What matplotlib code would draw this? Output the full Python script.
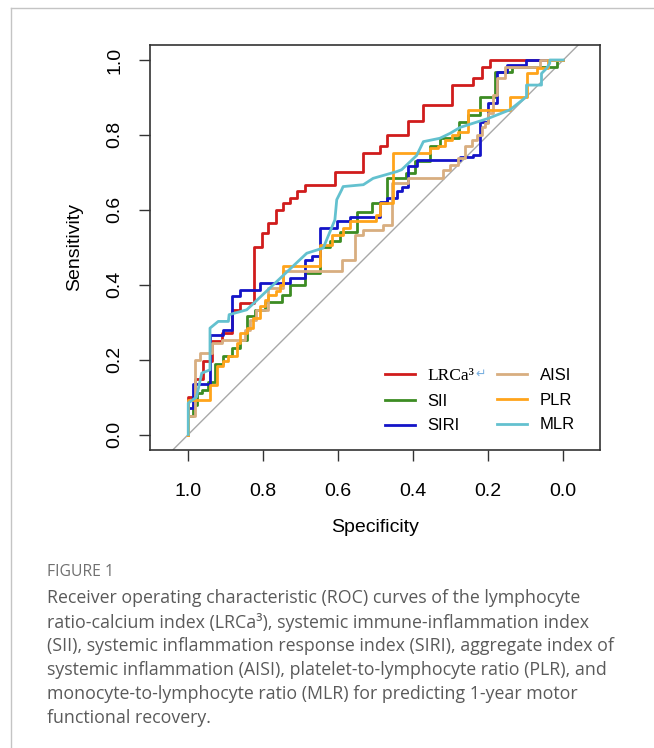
import matplotlib
matplotlib.use("Agg")
import matplotlib.pyplot as plt
from matplotlib.lines import Line2D

# ROC step vertices (x = specificity, y = sensitivity)
lrca3_spec = [1.0, 1.0, 0.982, 0.96, 0.938, 0.911, 0.884, 0.862, 0.824, 0.804, 0.787,
              0.766, 0.747, 0.729, 0.711, 0.689, 0.609, 0.533, 0.489, 0.471, 0.413,
              0.373, 0.298, 0.24, 0.218, 0.195, 0.0]
lrca3_sens = [0.0, 0.1, 0.147, 0.196, 0.249, 0.271, 0.333, 0.351, 0.5, 0.539, 0.565,
              0.6, 0.618, 0.631, 0.649, 0.667, 0.702, 0.751, 0.769, 0.8, 0.836,
              0.88, 0.933, 0.951, 0.982, 1.0, 1.0]

sii_spec = [1.0, 1.0, 0.987, 0.978, 0.964, 0.947, 0.929, 0.907, 0.884, 0.862, 0.844,
            0.822, 0.796, 0.751, 0.729, 0.689, 0.649, 0.622, 0.595, 0.551, 0.511,
            0.471, 0.42, 0.395, 0.356, 0.329, 0.278, 0.253, 0.222, 0.182, 0.138,
            0.018, 0.0]
sii_sens = [0.0, 0.05, 0.08, 0.111, 0.12, 0.14, 0.187, 0.209, 0.231, 0.253, 0.316,
            0.333, 0.353, 0.373, 0.4, 0.431, 0.502, 0.516, 0.542, 0.595, 0.618,
            0.684, 0.698, 0.73, 0.769, 0.791, 0.835, 0.853, 0.902, 0.969, 0.982,
            1.0, 1.0]

siri_spec = [1.0, 1.0, 0.988, 0.942, 0.907, 0.884, 0.862, 0.809, 0.729, 0.689, 0.671,
             0.649, 0.604, 0.569, 0.489, 0.471, 0.444, 0.431, 0.413, 0.391, 0.275,
             0.24, 0.222, 0.2, 0.178, 0.151, 0.1, 0.0]
siri_sens = [0.0, 0.07, 0.135, 0.267, 0.28, 0.369, 0.387, 0.404, 0.418, 0.467, 0.476,
             0.551, 0.569, 0.582, 0.622, 0.631, 0.649, 0.662, 0.716, 0.733, 0.742,
             0.747, 0.835, 0.885, 0.969, 0.987, 1.0, 1.0]

aisi_spec = [1.0, 1.0, 0.982, 0.969, 0.938, 0.91, 0.849, 0.835, 0.82, 0.787, 0.747,
             0.591, 0.555, 0.533, 0.48, 0.458, 0.413, 0.32, 0.302, 0.28, 0.262,
             0.244, 0.229, 0.218, 0.209, 0.2, 0.187, 0.178, 0.155, 0.062, 0.0]
aisi_sens = [0.0, 0.05, 0.2, 0.218, 0.244, 0.253, 0.28, 0.307, 0.333, 0.391, 0.436,
             0.467, 0.533, 0.547, 0.56, 0.671, 0.684, 0.707, 0.72, 0.738, 0.769,
             0.787, 0.8, 0.822, 0.831, 0.858, 0.907, 0.951, 0.982, 1.0, 1.0]

plr_spec = [1.0, 1.0, 0.942, 0.924, 0.907, 0.893, 0.871, 0.862, 0.844, 0.827, 0.809,
            0.796, 0.787, 0.765, 0.756, 0.747, 0.649, 0.618, 0.587, 0.569, 0.5,
            0.489, 0.453, 0.356, 0.333, 0.316, 0.298, 0.28, 0.253, 0.142, 0.098,
            0.071, 0.04, 0.0]
plr_sens = [0.0, 0.093, 0.133, 0.182, 0.196, 0.209, 0.244, 0.271, 0.284, 0.311, 0.342,
            0.36, 0.373, 0.382, 0.4, 0.451, 0.507, 0.533, 0.551, 0.569, 0.587,
            0.618, 0.751, 0.764, 0.769, 0.787, 0.8, 0.809, 0.867, 0.902, 0.964,
            0.978, 1.0, 1.0]

# MLR has tied values, so it is a plain polyline
mlr_spec = [1.0, 1.0, 0.978, 0.964, 0.951, 0.942, 0.942, 0.92, 0.893, 0.891, 0.844,
            0.773, 0.684, 0.64, 0.609, 0.604, 0.591, 0.587, 0.533, 0.507, 0.444,
            0.431, 0.391, 0.373, 0.329, 0.302, 0.275, 0.2, 0.142, 0.098, 0.098,
            0.058, 0.058, 0.044, 0.036, 0.036, 0.0]
mlr_sens = [0.0, 0.084, 0.1, 0.164, 0.169, 0.173, 0.284, 0.302, 0.302, 0.32, 0.333,
            0.4, 0.484, 0.498, 0.573, 0.627, 0.653, 0.662, 0.667, 0.684, 0.702,
            0.707, 0.745, 0.782, 0.791, 0.804, 0.82, 0.844, 0.867, 0.902, 0.933,
            0.933, 0.964, 0.978, 0.991, 1.0, 1.0]

tick_values = [1.0, 0.8, 0.6, 0.4, 0.2, 0.0]
caption_lines = [
    "Receiver operating characteristic (ROC) curves of the lymphocyte",
    "ratio-calcium index (LRCa\u00b3), systemic immune-inflammation index",
    "(SII), systemic inflammation response index (SIRI), aggregate index of",
    "systemic inflammation (AISI), platelet-to-lymphocyte ratio (PLR), and",
    "monocyte-to-lymphocyte ratio (MLR) for predicting 1-year motor",
    "functional recovery.",
]

W, H = 654, 748
SANS = "Liberation Sans"

fig = plt.figure(figsize=(W / 100, H / 100), dpi=100)
ax = fig.add_axes([150 / W, 1 - 449.5 / H, 450 / W, 404.5 / H])

ax.axline((1.0, 0.0), (0.0, 1.0), color="#a8a8a8", lw=1.0, zorder=1)

step_series = [
    (lrca3_spec, lrca3_sens, "#d01c1c", "LRCa\u00b3"),
    (sii_spec, sii_sens, "#3c8c23", "SII"),
    (siri_spec, siri_sens, "#1414c8", "SIRI"),
    (aisi_spec, aisi_sens, "#d8ae80", "AISI"),
    (plr_spec, plr_sens, "#ffa41b", "PLR"),
]
handles = []
for spec, sens, color, label in step_series:
    (line,) = ax.step(spec, sens, where="post", color=color, lw=2.0, label=label)
    handles.append(line)
(mlr_line,) = ax.plot(mlr_spec, mlr_sens, color="#63c1cf", lw=2.0, label="MLR")
handles.append(mlr_line)

ax.set_xlim(1.102, -0.098)
ax.set_ylim(-0.04, 1.04)
ax.set_xticks(tick_values)
ax.set_yticks(tick_values)
ax.set_xticklabels([f"{v:.1f}" for v in tick_values], fontsize=14, family=SANS)
ax.set_yticklabels([f"{v:.1f}" for v in tick_values], fontsize=14, family=SANS,
                   rotation=90, va="center")
ax.tick_params(axis="x", length=8, width=1, color="#333333", pad=16)
ax.tick_params(axis="y", length=8, width=1, color="#333333", pad=11)
for spine in ax.spines.values():
    spine.set_color("#333333")
    spine.set_linewidth(1.2)

ax.set_xlabel("Specificity", fontsize=14, family=SANS, va="center")
ax.set_ylabel("Sensitivity", fontsize=14, family=SANS, va="center")
ax.xaxis.set_label_coords(0.5, -(528 - 449.5) / 404.5)
ax.yaxis.set_label_coords((75 - 150) / 450, 0.5)

legend_kw = dict(
    loc="upper left", bbox_transform=fig.transFigure, frameon=False,
    borderpad=0, borderaxespad=0, handlelength=1.8,
    handletextpad=0.75, labelspacing=0.58, prop={"family": SANS, "size": 12},
)
leg1 = ax.legend(handles=handles[:3], bbox_to_anchor=(385 / W, 1 - 368 / H), **legend_kw)
ax.add_artist(leg1)
leg2 = ax.legend(handles=handles[3:], bbox_to_anchor=(497 / W, 1 - 368 / H), **legend_kw)
for handle in leg1.legend_handles + leg2.legend_handles:
    handle.set_linewidth(2.0)
lrca_text = leg1.get_texts()[0]
lrca_text.set_fontfamily("Liberation Serif")
lrca_text.set_fontsize(12.5)

# outer frame of the figure panel
fig.add_artist(Line2D([11 / W, 11 / W], [0, 1 - 8 / H], transform=fig.transFigure,
                      color="#c4c4c4", lw=1.0))
fig.add_artist(Line2D([11 / W, 1], [1 - 8 / H, 1 - 8 / H], transform=fig.transFigure,
                      color="#c4c4c4", lw=1.0))

fig.text(47 / W, 1 - 572 / H, "FIGURE 1", fontsize=11.3, color="#707070",
         family="Open Sans", va="center")
for i, line in enumerate(caption_lines):
    fig.text(47 / W, 1 - (598 + 24 * i) / H, line, fontsize=12.8, color="#5a5a5a",
             family="Open Sans", va="center")

# small return-arrow glyph after the LRCa3 label
fig.canvas.draw()
bb = lrca_text.get_window_extent()
fig.text((bb.x1 + 1) / W, (bb.y0 + bb.y1) / 2 / H + 2 / H, "\u21b5", fontsize=9,
         color="#7ab0e0", family="DejaVu Sans", va="center")

fig.savefig("out.png", dpi=100)
